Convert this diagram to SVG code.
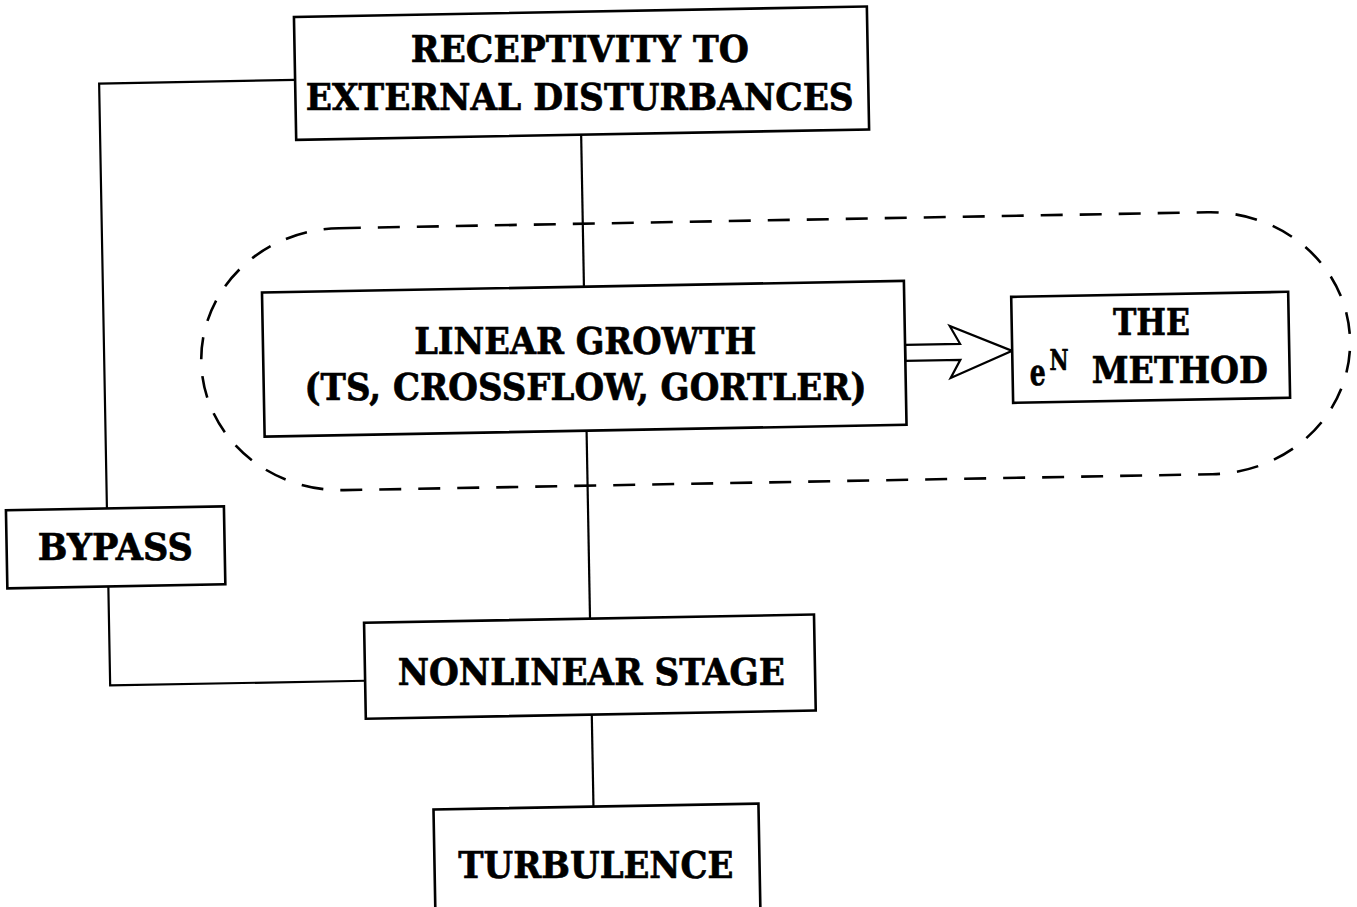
<svg xmlns="http://www.w3.org/2000/svg" width="1357" height="907" viewBox="0 0 1357 907">
<style>
.box{fill:#fff;stroke:#000;stroke-width:2.6}
.conn{fill:none;stroke:#000;stroke-width:2.2}
.dash{fill:none;stroke:#000;stroke-width:2.6;stroke-dasharray:22 17}
.t{font-family:"DejaVu Serif","Liberation Serif",serif;font-weight:bold;font-size:37px;fill:#000;stroke:#000;stroke-width:0.7;text-anchor:middle}
.ts{font-family:"DejaVu Serif","Liberation Serif",serif;font-weight:bold;font-size:37px;fill:#000;stroke:#000;stroke-width:0.7}
</style>
<rect width="1357" height="907" fill="#fff"/>
<g transform="rotate(-1.05 678 453)">
<g id="connectors">
<path class="dash" d="M343,222 H1212 A140,131 0 0 1 1212,484 H343 A140,131 0 0 1 343,222 Z"/>
<path class="conn" d="M587,133 V285"/>
<path class="conn" d="M587,429 V617"/>
<path class="conn" d="M587,713 V805"/>
<path class="conn" d="M302,73 H106 V498"/>
<path class="conn" d="M106,576 V675 H361"/>
<polygon class="conn" points="907,349 962,349 952,331 1014,357 952,383 962,365 907,365" style="fill:#fff"/>
</g>
<g id="receptivity">
<rect class="box" x="302" y="10" width="573" height="123"/>
<text class="t" x="587" y="60" transform="rotate(1.05 587 60)" textLength="338" lengthAdjust="spacingAndGlyphs">RECEPTIVITY TO</text>
<text class="t" x="586" y="108" transform="rotate(1.05 586 108)" textLength="548" lengthAdjust="spacingAndGlyphs">EXTERNAL DISTURBANCES</text>
</g>
<g id="linear">
<rect class="box" x="265" y="285" width="642" height="144"/>
<text class="t" x="587" y="352" transform="rotate(1.05 587 352)" textLength="342" lengthAdjust="spacingAndGlyphs">LINEAR GROWTH</text>
<text class="t" x="586.5" y="398" transform="rotate(1.05 586.5 398)" textLength="562" lengthAdjust="spacingAndGlyphs">(TS, CROSSFLOW, GORTLER)</text>
</g>
<g id="method">
<rect class="box" x="1014" y="303" width="277" height="106"/>
<text class="t" x="1153.5" y="344" transform="rotate(1.05 1153.5 344)" textLength="77" lengthAdjust="spacingAndGlyphs">THE</text>
<text class="ts" x="1031" y="391" transform="rotate(1.05 1031 391)" textLength="16" lengthAdjust="spacingAndGlyphs">e</text>
<text class="ts" x="1051" y="377" transform="rotate(1.05 1051 377)" style="font-size:27px" textLength="19" lengthAdjust="spacingAndGlyphs">N</text>
<text class="ts" x="1093" y="391" transform="rotate(1.05 1093 391)" textLength="176" lengthAdjust="spacingAndGlyphs">METHOD</text>
</g>
<g id="bypass">
<rect class="box" x="5" y="498" width="218" height="78"/>
<text class="t" x="113.5" y="550" transform="rotate(1.05 113.5 550)" textLength="155" lengthAdjust="spacingAndGlyphs">BYPASS</text>
</g>
<g id="nonlinear">
<rect class="box" x="361" y="617" width="450" height="96"/>
<text class="t" x="587" y="683" transform="rotate(1.05 587 683)" textLength="387" lengthAdjust="spacingAndGlyphs">NONLINEAR STAGE</text>
</g>
<g id="turbulence">
<rect class="box" x="427" y="805" width="325" height="115"/>
<text class="t" x="588" y="876.5" transform="rotate(1.05 588 876.5)" textLength="275" lengthAdjust="spacingAndGlyphs">TURBULENCE</text>
</g>
</g>
</svg>
